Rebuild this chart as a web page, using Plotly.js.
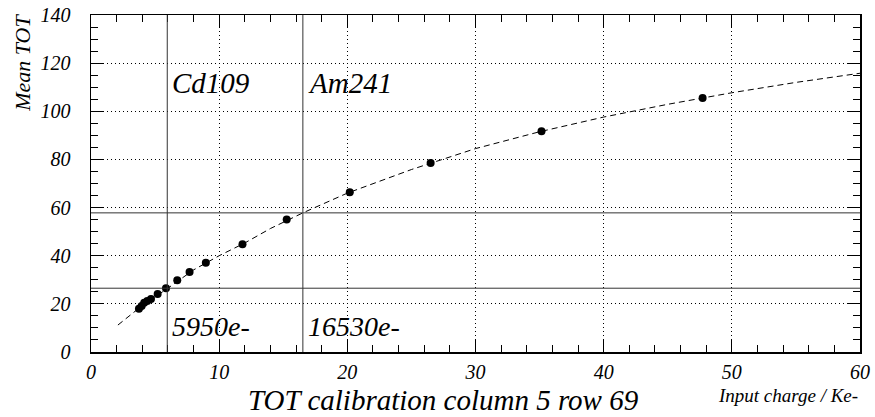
<!DOCTYPE html>
<html>
<head>
<meta charset="utf-8">
<script src="https://cdn.plot.ly/plotly-3.0.1.min.js"></script>
<style>
html,body{margin:0;padding:0;background:#fff;}
#chart{width:875px;height:417px;}
</style>
</head>
<body>
<div id="chart"></div>
<script>
// Measured calibration points
const inputCharge = [3.74, 3.95, 4.15, 4.39, 4.68, 5.2, 5.85, 6.73, 7.69, 8.96, 11.82, 15.27, 20.19, 26.5, 35.15, 47.72];
const meanTOT     = [18.0, 19.1, 20.5, 21.2, 22.0, 24.1, 26.5, 29.8, 33.2, 37.1, 44.8, 55.0, 66.4, 78.5, 91.7, 105.5];

// Fit curve
const fitCharge = [2.1, 4, 6, 8, 10, 12, 14, 16.53, 20, 25, 30, 35, 40, 45, 50, 55, 60];
const fitTOT    = [11.2, 19.3, 26.5, 34.1, 40.0, 45.3, 51.3, 57.8, 66.0, 75.8, 84.5, 91.5, 97.6, 102.9, 107.7, 112.0, 115.8];

// Source reference lines
const sourceNames   = ["Cd109", "Am241"];
const sourceCharge  = [5.95, 16.53];
const sourceTOT     = [26.5, 57.8];
const sourceLabels  = ["5950e-", "16530e-"];

const serif = "'Liberation Serif', 'Times New Roman', serif";

const traces = [
  {x: fitCharge, y: fitTOT, mode: "lines", type: "scatter",
   line: {color: "#000", width: 1, dash: "6px,4px"}, hoverinfo: "skip"},
  {x: inputCharge, y: meanTOT, mode: "markers", type: "scatter",
   marker: {color: "#000", size: 8}}
];

const shapes = [];
sourceCharge.forEach(v => shapes.push({type: "line", xref: "x", yref: "paper", x0: v, x1: v, y0: 0, y1: 1,
  line: {color: "#333", width: 1}}));
sourceTOT.forEach(v => shapes.push({type: "line", xref: "paper", yref: "y", x0: 0, x1: 1, y0: v, y1: v,
  line: {color: "#333", width: 1}}));

const annotations = [];
sourceNames.forEach((n, i) => annotations.push({text: "<i>" + n + "</i>", xref: "x", yref: "paper", x: sourceCharge[i], y: 0.797,
  xanchor: "left", yanchor: "middle", xshift: 3, showarrow: false,
  font: {family: serif, size: 29, color: "#000"}}));
sourceLabels.forEach((n, i) => annotations.push({text: "<i>" + n + "</i>", xref: "x", yref: "paper", x: sourceCharge[i], y: 0.077,
  xanchor: "left", yanchor: "middle", xshift: 3, showarrow: false,
  font: {family: serif, size: 28, color: "#000"}}));
annotations.push({text: "<i>TOT calibration column 5 row 69</i>", xref: "paper", yref: "paper", x: 0.459, y: -0.142,
  xanchor: "center", yanchor: "middle", showarrow: false,
  font: {family: serif, size: 29, color: "#000"}});
annotations.push({text: "<i>Input charge / Ke-</i>", xref: "paper", yref: "paper", x: 1.0, y: -0.129,
  xanchor: "right", yanchor: "middle", showarrow: false,
  font: {family: serif, size: 19, color: "#000"}});
annotations.push({text: "<i>Mean TOT</i>", xref: "paper", yref: "paper", x: -0.089, y: 1.008, textangle: -90,
  xanchor: "center", yanchor: "top", showarrow: false,
  font: {family: serif, size: 22, color: "#000"}});

const axisCommon = {
  showline: true, linecolor: "#000", linewidth: 1.5, mirror: "allticks",
  ticks: "inside", ticklen: 12, tickcolor: "#000", tickwidth: 1,
  showgrid: true, gridcolor: "#000", griddash: "1px,3px", gridwidth: 1,
  zeroline: false, fixedrange: true,
  tickfont: {family: serif, size: 20, style: "italic", color: "#000"}
};

const layout = {
  width: 875, height: 417,
  margin: {l: 91, r: 15, t: 15, b: 65},
  paper_bgcolor: "#fff", plot_bgcolor: "#fff",
  font: {family: serif, color: "#000"},
  showlegend: false,
  xaxis: Object.assign({}, axisCommon, {range: [0, 60], dtick: 10, tick0: 0, ticklabelstandoff: 1,
    minor: {dtick: 2, ticks: "inside", ticklen: 7, tickcolor: "#000", showgrid: false}}),
  yaxis: Object.assign({}, axisCommon, {range: [0, 140], dtick: 20, tick0: 0, ticklabelstandoff: 15,
    minor: {dtick: 5, ticks: "inside", ticklen: 7, tickcolor: "#000", showgrid: false}}),
  shapes: shapes,
  annotations: annotations
};

Plotly.newPlot("chart", traces, layout, {staticPlot: true, displayModeBar: false});
</script>
</body>
</html>
